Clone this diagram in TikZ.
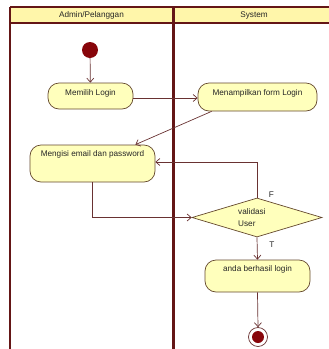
\documentclass[tikz,border=0pt]{standalone}
\usepackage{fontspec}
\setmainfont{Liberation Sans}
\usetikzlibrary{arrows.meta,shapes.geometric,calc}
\definecolor{headfill}{RGB}{255,246,170}
\definecolor{laneline}{RGB}{100,22,22}
\definecolor{nodefill}{RGB}{255,255,188}
\definecolor{nodeline}{RGB}{100,72,45}
\definecolor{flowline}{RGB}{105,50,50}
\definecolor{dot}{RGB}{135,5,10}
\begin{document}
\begin{tikzpicture}[x=1pt,y=-1pt,
  lbl/.style={font=\fontsize{8.2}{12}\selectfont, inner sep=0pt, text=black!85},
  action/.style={draw=nodeline, fill=nodefill, rounded corners=11pt, line width=0.7pt, inner sep=0pt},
  decision/.style={diamond, draw=nodeline, fill=nodefill, line width=0.7pt, inner sep=0pt},
  flow/.style={draw=flowline, line width=0.7pt, -{Straight Barb[length=4pt,width=7pt]}},
  lane/.style={draw=laneline, line width=1.2pt}]
\useasboundingbox (0,0) rectangle (329,349);

% swimlane frame
\fill[headfill] (10,7) rectangle (329,23);
\draw[lane] (10,7) -- (329,7);
\draw[lane] (10,23) -- (329,23);
\draw[lane] (10,7) -- (10,349);
\draw[laneline, line width=3pt] (173,7) -- (173,349);
\node[lbl] (laneA) at (91.5,15.5) {Admin/Pelanggan};
\node[lbl] (laneB) at (254,15.5) {System};

% start and end
\node[circle, fill=dot, minimum size=16pt, inner sep=0pt] (start) at (90,50) {};
\node[circle, draw=flowline, fill=white, line width=0.7pt, minimum size=19pt, inner sep=0pt] (final) at (258,337) {};
\node[circle, fill=dot, minimum size=12pt, inner sep=0pt] (finaldot) at (258,337) {};

% actions
\node[action, minimum width=85pt, minimum height=26pt] (memilih) at (90.5,96) {};
\node[lbl] (memilihT) at (90.5,93) {Memilih Login};
\node[action, minimum width=119pt, minimum height=28pt] (tampil) at (257.5,97) {};
\node[lbl] (tampilT) at (257.5,93) {Menampilkan form Login};
\node[action, minimum width=125pt, minimum height=37pt] (isi) at (92.5,163.5) {};
\node[lbl] (isiT) at (92.5,154.5) {Mengisi email dan password};
\node[action, minimum width=105pt, minimum height=32pt] (berhasil) at (257.5,276) {};
\node[lbl] (berhasilT) at (257.5,269.5) {anda berhasil login};

% decision
\node[decision, minimum width=130pt, minimum height=39pt] (valid) at (257,217.5) {};
\node[lbl, anchor=west, align=left] (validT) at (238,217.5) {validasi\\User};
\node[lbl] (fLabel) at (271.5,194.5) {F};
\node[lbl] (tLabel) at (272,244.5) {T};

% control flow
\draw[flow] (start) -- (memilih);
\draw[flow] ([yshift=-2pt]memilih.east) -- ([yshift=-2pt]memilih.east -| tampil.west);
\draw[flow] ([xshift=14pt]tampil.south west) -- ([xshift=-20pt]isi.north east);
\draw[flow] (isi.south) |- (valid.west);
\draw[flow] (valid.north) |- ([yshift=1.5pt]isi.east);
\draw[flow] (valid.south) -- (berhasil.north);
\draw[flow] (berhasil.south) -- (final.north);
\end{tikzpicture}
\end{document}
